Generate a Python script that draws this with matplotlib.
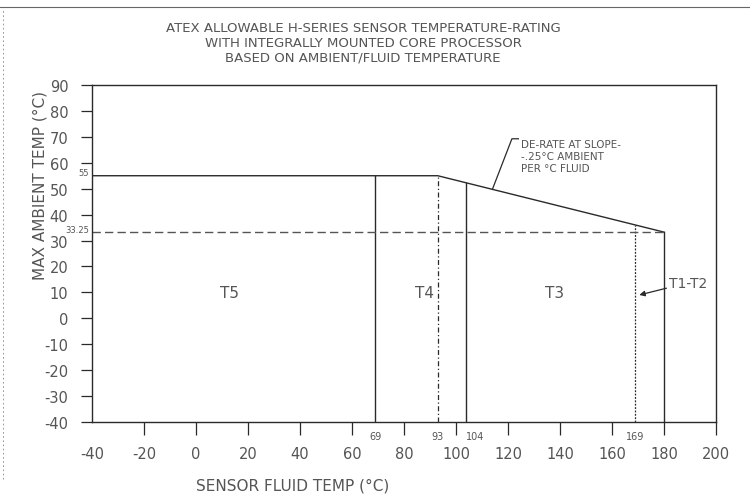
import numpy as np
import matplotlib
matplotlib.use("Agg")
import matplotlib.pyplot as plt

# ---- data ----
title_lines = ["ATEX ALLOWABLE H-SERIES SENSOR TEMPERATURE-RATING",
               "WITH INTEGRALLY MOUNTED CORE PROCESSOR",
               "BASED ON AMBIENT/FLUID TEMPERATURE"]
x_label = "SENSOR FLUID TEMP (°C)"
y_label = "MAX AMBIENT TEMP (°C)"
x_ticks = [-40, -20, 0, 20, 40, 60, 80, 100, 120, 140, 160, 180, 200]
y_ticks = [-40, -30, -20, -10, 0, 10, 20, 30, 40, 50, 60, 70, 80, 90]
limit_fluid = [-40, 93, 180]
limit_ambient = [55, 55, 33.25]
solid_bounds = [69, 104, 180]
dashed_bounds = [93, 169]
ref_ambient = 33.25
marked_fluid = [69, 93, 104, 169]
marked_fluid_text = ["69", "93", "104", "169"]
marked_ambient = [55, 33.25]
marked_ambient_text = ["55", "33.25"]
zone_names = ["T5", "T4", "T3"]
zone_x = [13, 88, 138]
zone_y = [10, 10, 10]
t12_label = "T1-T2"
t12_text_xy = (182, 13.5)
t12_arrow_xy = (170.5, 9)
note_text = "DE-RATE AT SLOPE-\n-.25°C AMBIENT\nPER °C FLUID"
note_point = 114

LC = "#2a2a2a"
TC = "#555555"

fig = plt.figure(figsize=(7.5, 5.02), dpi=100)
ax = fig.add_axes([92/750, 1-423/502, (716-92)/750, (423-86)/502])
ax.set_xlim(-40, 200)
ax.set_ylim(-40, 90)
for s in ax.spines.values():
    s.set_color(LC)
    s.set_linewidth(1.0)

ax.set_xticks(x_ticks)
ax.set_xticklabels([str(v) for v in x_ticks])
ax.set_yticks(y_ticks)
ax.set_yticklabels([str(v) for v in y_ticks])
ax.tick_params(axis="x", direction="out", length=9, width=0.9, color=LC,
               pad=8, labelsize=10.5, labelcolor=TC)
ax.tick_params(axis="y", direction="out", length=8, width=0.9, color=LC,
               pad=9, labelsize=10.5, labelcolor=TC)
ax.xaxis.get_major_ticks()[0].tick1line.set_visible(False)

# limit curve
ax.plot(limit_fluid, limit_ambient, color=LC, lw=1.0)
# solid zone boundaries
for xv in solid_bounds:
    top = np.interp(xv, limit_fluid, limit_ambient)
    ax.plot([xv, xv], [-40, top], color=LC, lw=1.0)
# dashed boundaries
ax.plot([dashed_bounds[0]]*2, [-40, np.interp(dashed_bounds[0], limit_fluid, limit_ambient)],
        color=LC, lw=0.9, dashes=(4, 2, 1, 2))
ax.plot([dashed_bounds[1]]*2, [-40, np.interp(dashed_bounds[1], limit_fluid, limit_ambient)],
        color=LC, lw=0.9, dashes=(1.5, 1.2))
# horizontal dashed reference
ax.plot([-40, limit_fluid[-1]], [ref_ambient, ref_ambient], color="#555555", lw=1.0,
        dashes=(6, 3))

# small markers
for xv, t in zip(marked_fluid, marked_fluid_text):
    ax.annotate(t, (xv, -40), xytext=(0, -10), textcoords="offset points",
                ha="left" if t == "104" else "center", va="center",
                fontsize=7, color=TC, annotation_clip=False)
for yv, t in zip(marked_ambient, marked_ambient_text):
    ax.annotate(t, (-40, yv), xytext=(-2, 2), textcoords="offset points",
                ha="right", va="center", fontsize=6, color=TC, annotation_clip=False)

# zone names
for n, xv, yv in zip(zone_names, zone_x, zone_y):
    ax.text(xv, yv, n, ha="center", va="center", fontsize=11, color=TC)
ax.annotate(t12_label, xy=t12_arrow_xy, xytext=t12_text_xy, ha="left", va="center",
            fontsize=10, color=TC,
            arrowprops=dict(arrowstyle="-|>", color=LC, lw=0.9, mutation_scale=8,
                            shrinkA=0, shrinkB=0, relpos=(0, 0.2)))

# derate note (leader line)
py = np.interp(note_point, limit_fluid, limit_ambient)
ax.plot([note_point, note_point + 7.5, note_point + 10], [py, py + 19.5, py + 19.5],
        color=LC, lw=0.9)
ax.text(note_point + 11, py + 19.5, note_text, ha="left", va="top",
        fontsize=7.5, color=TC, linespacing=1.25)

# titles and labels
for i, line in enumerate(title_lines):
    fig.text(363/750, 1 - (29 + 14.5*i)/502, line, ha="center", va="center",
             fontsize=9.5, color=TC)
fig.text(293/750, 1 - 486/502, x_label, ha="center", va="center", fontsize=11, color=TC)
fig.text(40/750, 1 - 186/502, y_label, ha="center", va="center", rotation=90,
         fontsize=11, color=TC)

# scan border remnants
fig.add_artist(plt.Line2D([0, 1], [1 - 8/502, 1 - 8/502], color="#666666", lw=0.8,
                          transform=fig.transFigure))
fig.add_artist(plt.Line2D([3/750, 3/750], [1 - 480/502, 1 - 10/502], color="#888888",
                          lw=0.6, dashes=(2, 3), transform=fig.transFigure))

fig.savefig("out.png", dpi=100)
